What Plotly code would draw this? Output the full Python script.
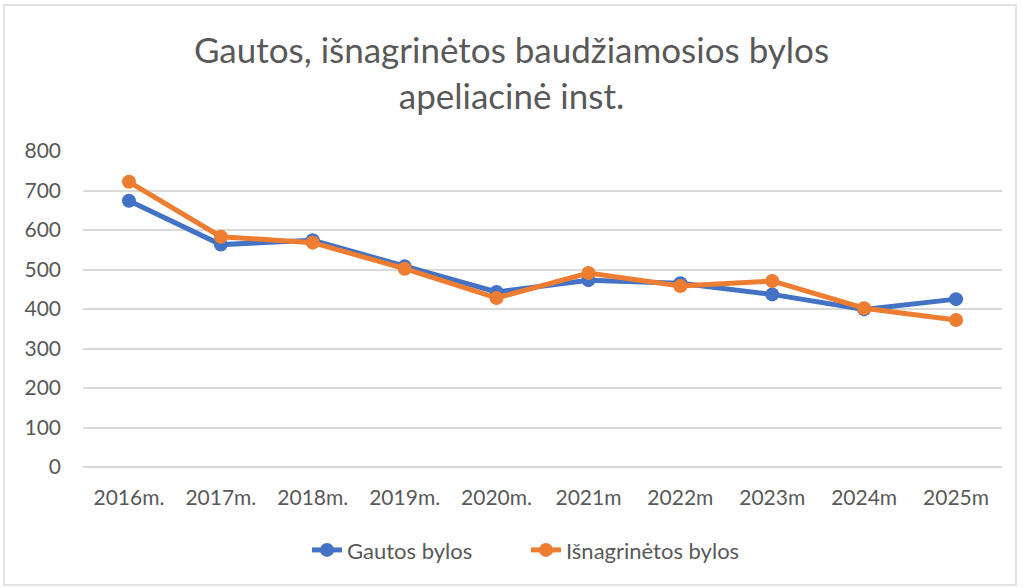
import plotly.graph_objects as go

# Duomenys nuskaityti nuo paveikslo
metai = ["2016m.", "2017m.", "2018m.", "2019m.", "2020m.",
         "2021m", "2022m", "2023m", "2024m", "2025m"]
gautos = [674, 563, 574, 508, 443, 473, 465, 437, 399, 425]
isnagrinetos = [722, 583, 568, 502, 428, 491, 458, 471, 402, 372]

fnt = "Lato, Carlito, 'Liberation Sans', sans-serif"
pilka = "#595959"

fig = go.Figure()
fig.add_trace(go.Scatter(
    x=metai, y=gautos, name="Gautos bylos", mode="lines+markers",
    line=dict(color="#4472C4", width=5), marker=dict(size=14, color="#4472C4")
))
fig.add_trace(go.Scatter(
    x=metai, y=isnagrinetos, name="Išnagrinėtos bylos", mode="lines+markers",
    line=dict(color="#ED7D31", width=5), marker=dict(size=14, color="#ED7D31")
))

fig.update_layout(
    width=1023, height=588,
    margin=dict(l=83, r=21, t=151, b=121, autoexpand=False),
    paper_bgcolor="white", plot_bgcolor="white",
    font=dict(family=fnt, color=pilka, size=21),
    title=dict(
        text="Gautos, išnagrinėtos baudžiamosios bylos<br>apeliacinė inst.",
        x=0.5, xanchor="center", yref="container", y=1 - 63 / 588, yanchor="middle",
        font=dict(size=35, color=pilka, family=fnt)
    ),
    xaxis=dict(range=[-0.5, 9.5], showgrid=False, showline=False, ticks="",
               ticklabelstandoff=16, tickfont=dict(size=21)),
    yaxis=dict(range=[0, 800], dtick=100, showgrid=True, gridcolor="#d9d9d9",
               gridwidth=1.5, zeroline=True, zerolinecolor="#d9d9d9",
               zerolinewidth=1.5, showline=False, ticks="", ticklabelstandoff=21,
               tickfont=dict(size=21)),
    legend=dict(orientation="h", x=(526 - 83) / 919, xanchor="center",
                y=-0.263, yanchor="middle", font=dict(size=22), entrywidth=174),
    showlegend=True,
)

# Rėmelis aplink diagramą
fig.add_shape(type="rect", xref="paper", yref="paper",
              x0=-79 / 919, x1=1 + 14 / 919, y0=-118 / 316, y1=1 + 146 / 316,
              line=dict(color="#d9d9d9", width=1.5))

fig.write_html("out.html", config={"displayModeBar": False},
               post_script="document.body.style.margin='0px';")
